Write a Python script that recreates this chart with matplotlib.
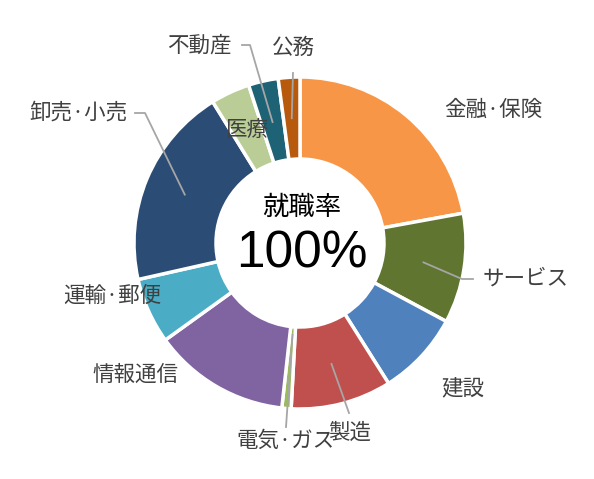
import matplotlib
matplotlib.use("Agg")
import matplotlib.pyplot as plt
import numpy as np

plt.rcParams['font.family'] = ['Noto Sans CJK JP', 'DejaVu Sans']

# share of employment by industry (%), clockwise from 12 o'clock
industries = ["金融·保険", "サービス", "建設", "製造", "電気·ガス", "情報通信",
              "運輸·郵便", "卸売·小売", "医療", "不動産", "公務"]
shares = [22.1, 10.7, 8.2, 9.8, 0.9, 13.3, 6.4, 19.7, 3.8, 2.9, 2.1]
colors = ["#F79646", "#5F7530", "#4F81BD", "#C0504D", "#9BBB59", "#8064A2",
          "#4BACC6", "#2B4C74", "#BACD96", "#1E6275", "#B85A0E"]
center_title = "就職率"
center_value = "100%"

W, H = 594, 479
CX, CY, R, RING = 300, H - 243, 166, 82

fig = plt.figure(figsize=(W / 100, H / 100), dpi=100)
ax = fig.add_axes([0, 0, 1, 1])

ax.pie(shares, colors=colors, startangle=90, counterclock=False,
       radius=R, center=(CX, CY),
       wedgeprops=dict(width=RING, edgecolor="white", linewidth=2.5))
ax.set_xlim(0, W)
ax.set_ylim(0, H)
ax.set_aspect("equal")
ax.axis("off")

# mid-angle (clockwise from top) of each wedge
bounds = np.concatenate([[0], np.cumsum(shares)]) / sum(shares) * 360
mids = (bounds[:-1] + bounds[1:]) / 2


def ring_point(i, r):
    a = np.deg2rad(mids[i])
    return CX + r * np.sin(a), CY + r * np.cos(a)


txt = dict(color="#404040", fontsize=15.5, va="center")
line = dict(color="#A6A6A6", lw=1.3)


def px(x, y):
    return x, H - y


def leader(i, r, *pts):
    x0, y0 = ring_point(i, r)
    xs = [x0] + [p[0] for p in pts]
    ys = [y0] + [H - p[1] for p in pts]
    ax.plot(xs, ys, **line)


# labels with leader lines
leader(1, 125, (462, 279), (473, 279))
ax.text(*px(483, 279), industries[1], ha="left", **txt)

leader(3, 125, (349, 413))
ax.text(*px(350, 433), industries[3], ha="center", **txt)

leader(4, 92, (286, 427))
ax.text(*px(285, 441), industries[4], ha="center", **txt)

leader(7, 125, (145, 113), (135, 113))
ax.text(*px(127, 113), industries[7], ha="right", **txt)

leader(9, 124, (250, 45), (242, 45))
ax.text(*px(232, 46), industries[9], ha="right", **txt)

leader(10, 125, (293, 73))
ax.text(*px(293, 48), industries[10], ha="center", **txt)

# labels without leader lines
ax.text(*px(493, 110), industries[0], ha="center", **txt)
ax.text(*px(463, 388), industries[2], ha="center", **txt)
ax.text(*px(135, 375), industries[5], ha="center", **txt)
ax.text(*px(112, 296), industries[6], ha="center", **txt)
ax.text(*ring_point(8, 124), industries[8], ha="center", **txt)

# centre text
ax.text(CX + 2, H - 207, center_title, ha="center", va="center",
        fontsize=19, color="black")
ax.text(CX + 2, H - 254, center_value, ha="center", va="center",
        fontsize=37, color="black",
        family=["Liberation Sans", "DejaVu Sans"])

fig.savefig("out.png", dpi=100)
